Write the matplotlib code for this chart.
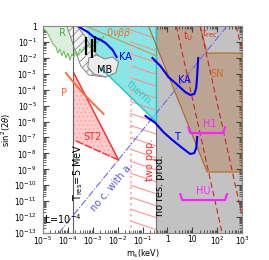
import numpy as np
import matplotlib
matplotlib.use("Agg")
import matplotlib.pyplot as plt

# ---- data (log10 m_s [keV], log10 sin^2(2theta)) ----
gray_x = [-0.44, 3.0]
pinkdot_x = -1.48
tres_x = -3.8

cyan_x = [-3.28, -0.44, -0.44, -2.68, -3.0]
cyan_y = [0.0, 0.0, -6.03, -2.64, -1.82]

brown_x = [-0.76, 1.32, 1.6, 3.0, 3.0, 1.6]
brown_y = [0.0, 0.0, -1.70, -1.70, -9.17, -9.17]

green_x = [-5.0, -4.84, -4.72, -4.6, -4.48, -4.4, -4.32, -4.24, -4.16, -4.08, -4.0, -3.92,
           -3.84, -3.76, -3.68, -3.6, -3.52, -3.44, -3.36, -3.28, -3.2, -3.12, -3.04, -2.96,
           -2.88, -2.8, -2.72, -2.64, -2.56]
green_y = [-0.13, -0.38, -0.75, -1.13, -1.32, -1.70, -1.44, -1.88, -1.57, -2.01, -1.70, -2.14,
           -1.76, -1.95, -1.57, -1.82, -1.44, -1.63, -1.32, -1.51, -1.19, -1.38, -1.07, -1.26,
           -0.94, -1.07, -0.75, -0.88, -0.63]

hatch_x = [-4.04, -3.64, -3.32, -3.0, -2.68, -2.28, -2.08, -2.52, -3.16, -3.48, -3.72, -3.88]
hatch_y = [0.0, 0.0, -0.63, -1.51, -2.01, -2.26, -2.76, -3.2, -3.08, -2.51, -1.51, -0.75]

mb_x = [-3.16, -2.84, -2.52, -2.2, -1.96, -2.08, -2.48, -2.96, -3.2]
mb_y = [-2.01, -1.82, -2.07, -1.95, -2.26, -2.95, -3.2, -3.02, -2.58]

bars_x = [-3.28, -3.04, -2.92]
bars_lo = [-1.82, -2.01, -1.63]
bars_hi = [-0.69, -0.82, -0.63]

ka1_x = [-3.68, -3.2, -2.96, -2.68, -2.48, -2.2, -2.04]
ka1_y = [0.06, -0.38, -0.69, -0.88, -1.07, -1.51, -1.95]

ka2_x = [-0.6, -0.28, 0.04, 0.36, 0.72, 0.92, 1.08, 1.16, 1.2, 1.24]
ka2_y = [-2.01, -2.51, -3.2, -3.64, -4.15, -4.33, -4.27, -3.89, -3.08, -2.01]

t_x = [-0.88, -0.48, -0.16, 0.2, 0.6, 0.92, 1.08, 1.16, 1.2]
t_y = [-5.65, -6.09, -6.66, -7.16, -7.66, -8.04, -7.98, -7.66, -6.97]

p_x = [-4.08, -3.68, -3.28, -2.88, -2.56]
p_y = [-2.95, -3.71, -4.4, -5.03, -5.53]

st2_x = [-3.76, -1.96, -3.76]
st2_y = [-2.95, -8.42, -7.16]

onbb_x = [-3.28, -0.44]
onbb_y = [0.0, -1.88]

nca_x = [-4.36, 2.4]
nca_y = [-13.0, 0.0]

dash_x0 = [0.36, 1.32, 2.76]
dash_y0 = [0.0, 0.0, 0.0]
dash_x1 = [2.2, 3.0, 3.0]
dash_y1 = [-13.0, -11.9, -1.5]

h1_x = [0.84, 2.32]
h1_y = -6.72
hu_x = [0.52, 2.4]
hu_y = -10.93

xticks = [-5, -4, -3, -2, -1, 0, 1, 2, 3]
xticklabels = ['$10^{-5}$', '$10^{-4}$', '$10^{-3}$', '$10^{-2}$', '$10^{-1}$', '1', '10', '$10^{2}$', '$10^{3}$']
yticks = list(range(0, -14, -1))
yticklabels = ['1'] + ['$10^{%d}$' % k for k in range(-1, -14, -1)]

P = lambda a: 10.0 ** np.asarray(a, dtype=float)

plt.rcParams['hatch.linewidth'] = 0.5
fig = plt.figure(figsize=(2.69, 2.60), dpi=100)
ax = fig.add_axes([43/269, 27/260, 199/269, 207/260])
ax.set_xscale('log')
ax.set_yscale('log')
ax.set_xlim(1e-5, 1e3)
ax.set_ylim(1e-13, 1)

# gray region
ax.axvspan(P(gray_x[0]), P(gray_x[1]), color='#c2c2c2', zorder=1, lw=0)
ax.axvline(P(gray_x[0]), color='#707070', lw=0.8, zorder=6)
# brown
ax.fill(P(brown_x), P(brown_y), facecolor='#bba592', edgecolor='none', zorder=1.5)
ax.plot(P(brown_x + [brown_x[0]]), P(brown_y + [brown_y[0]]), color='#b0681e', lw=0.8, zorder=7)
# green
gx = green_x + [green_x[-1], green_x[0]]
gy = green_y + [0.0, 0.0]
ax.fill(P(gx), P(gy), facecolor='#dcefdc', edgecolor='none', zorder=2)
ax.plot(P(green_x), P(green_y), color='#66bb55', lw=0.7, zorder=9)
# cyan
ax.fill(P(cyan_x), P(cyan_y), facecolor='#8ae6e6', edgecolor='none', zorder=2.5)
ax.plot(P(cyan_x[1:4]), P(cyan_y[1:4]), color='#22c4c4', lw=1.0, zorder=6)
# hatched
ax.fill(P(hatch_x), P(hatch_y), facecolor='#f4f4f4', edgecolor='#777777', hatch='////', lw=0.6, zorder=3)
# MB
ax.fill(P(mb_x), P(mb_y), facecolor='#ececec', edgecolor='#888888', lw=0.8, zorder=4)
# two-pop hatch lines
offs = np.arange(0.5, -14.5, -0.75)
for o in offs:
    ax.plot(P([pinkdot_x, gray_x[0]]), P([o, o - 0.54]), color='#ff8a8a', lw=0.7, zorder=5)
ax.axvline(P(pinkdot_x), color='#ffb0b0', lw=1.5, ls=':', zorder=5)
# T_res line
ax.axvline(P(tres_x), color='#606060', lw=0.8, zorder=5)
# ST2
ax.fill(P(st2_x), P(st2_y), facecolor='#ffcccc', edgecolor='#ff9a9a', hatch='....', lw=0, zorder=4)
ax.plot(P(st2_x[:2]), P(st2_y[:2]), color='#ff2a2a', lw=1.0, zorder=6)
ax.plot(P(st2_x[1:]), P(st2_y[1:]), color='#ff2a2a', lw=1.0, ls=(0, (6, 1)), zorder=6)
# P
ax.plot(P(p_x), P(p_y), color='#ff6633', lw=1.3, zorder=8)
# 0nbb
ax.plot(P(onbb_x), P(onbb_y), color='#c89040', lw=0.7, zorder=6)
# KA, T
ax.plot(P(ka1_x), P(ka1_y), color='#0000ee', lw=1.5, zorder=10)
ax.plot(P(ka2_x), P(ka2_y), color='#0000ee', lw=1.5, zorder=10)
ax.plot(P(t_x), P(t_y), color='#0000ee', lw=1.5, zorder=10)
# bars
ax.vlines(P(bars_x), P(bars_lo), P(bars_hi), color='black', lw=1.6, zorder=10)
# no c. with a.
ax.plot(P(nca_x), P(nca_y), color='#6a6ae6', lw=0.8, ls='-.', zorder=8)
# dashed lines
for a, b, c, d in zip(dash_x0, dash_y0, dash_x1, dash_y1):
    ax.plot(P([a, c]), P([b, d]), color='#cc2222', lw=0.8, ls=(0, (5, 3)), zorder=8)

# brackets
def bracket(xs, y):
    xx = [xs[0], xs[0] + 0.08, xs[1] - 0.08, xs[1]]
    yy = [y + 0.38, y, y, y + 0.38]
    ax.plot(P(xx), P(yy), color='#ff22ff', lw=1.6, zorder=10, solid_capstyle='round')
bracket(h1_x, h1_y)
bracket(hu_x, hu_y)

# labels
fs = 7
def T(x, y, s, c, **kw):
    kw.setdefault('ha', 'center')
    ax.text(P(x), P(y), s, color=c, fontsize=kw.pop('fs', fs), va='center', zorder=12, **kw)
T(-4.2, -0.44, 'R', '#44aa44')
T(-1.7, -1.95, 'KA', '#0000ee')
T(-1.95, -0.44, r'0$\nu\beta\beta$', '#e07a30')
T(-2.52, -2.76, 'MB', 'black')
T(-4.16, -4.21, 'P', '#ff6633')
T(-3.0, -6.97, 'ST2', '#ff2a2a')
T(-1.12, -4.27, 'therm.', '#33cccc', rotation=-42)
T(-0.68, -8.42, 'two pop.', '#ff2a2a', rotation=90)
T(-0.28, -9.99, 'no res. prod.', 'black', rotation=90)
T(-3.6, -9.17, r'T$_{\rm res}$=5 MeV', 'black', rotation=90)
T(-4.94, -12.12, r'L=10$^{-4}$', 'black', ha='left')
T(-2.24, -10.11, 'no c. with a.', '#5555dd', rotation=50)
T(0.84, -0.63, r't$_{\rm U}$', '#ee2222')
T(1.72, -0.44, r't$_{\rm rec}$', '#ee2222')
T(2.0, -3.02, 'SN', '#d2691e')
T(0.68, -3.39, 'KA', '#0000ee')
T(0.4, -6.97, 'T', '#0000ee')
T(1.72, -6.16, 'H1', '#ff22ff')
T(1.44, -10.36, 'HU', '#ff22ff')

ax.set_xticks(P(xticks))
ax.set_xticklabels(xticklabels)
ax.set_yticks(P(yticks))
ax.set_yticklabels(yticklabels)
ax.tick_params(which='both', direction='in', labelsize=5.5, top=True, right=True, color='#444444')
ax.tick_params(which='major', length=4)
ax.tick_params(axis='x', which='major', pad=1.5)
ax.tick_params(axis='y', which='major', pad=4.5)
ax.tick_params(which='minor', length=2)
ax.xaxis.set_minor_locator(matplotlib.ticker.LogLocator(base=10, subs=np.arange(2, 10), numticks=20))
ax.yaxis.set_minor_locator(matplotlib.ticker.LogLocator(base=10, subs=np.arange(2, 10), numticks=30))
ax.yaxis.set_minor_formatter(matplotlib.ticker.NullFormatter())
ax.xaxis.set_minor_formatter(matplotlib.ticker.NullFormatter())
for s in ax.spines.values():
    s.set_color('#888888')
    s.set_zorder(20)
ax.set_xlabel(r'm$_{\rm s}$(keV)', fontsize=5.8, labelpad=0, va='top')
ax.xaxis.set_label_coords(0.5, -0.07)
ax.set_ylabel(r'sin$^2$(2$\theta$)', fontsize=6, labelpad=0.5)
fig.savefig('out.png', dpi=100)
